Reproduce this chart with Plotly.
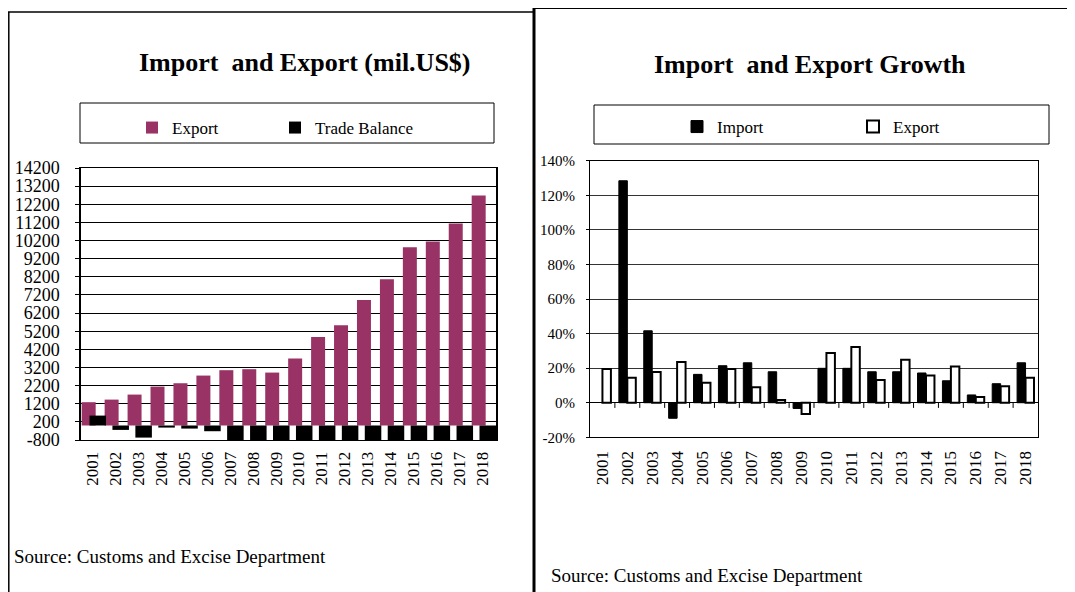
import plotly.graph_objects as go

# ---------------- data ----------------
years = [str(y) for y in range(2001, 2019)]
export_values = [1285, 1428, 1705, 2145, 2330, 2753, 3050, 3105, 2918, 3690,
                 4886, 5530, 6926, 8068, 9833, 10142, 11134, 12678]
trade_balance = [546, -243, -667, -115, -170, -316, -1450, -1820, -1160, -1210,
                 -1560, -2440, -2310, -2630, -2570, -2140, -3140, -4800]
import_growth = [None, 128.4, 41.6, -9.0, 16.4, 21.4, 23.1, 17.9, -3.3, 19.9,
                 19.9, 17.9, 17.9, 17.2, 12.7, 4.5, 11.0, 23.1]
export_growth = [19.5, 14.5, 17.8, 23.5, 11.6, 19.5, 8.9, 1.6, -6.5, 28.7,
                 32.2, 13.1, 24.9, 15.8, 21.0, 3.3, 9.5, 14.5]
left_yticks = list(range(-800, 14201, 1000))
left_yticktext = [str(v) for v in left_yticks]
right_yticks = list(range(-20, 141, 20))
right_yticktext = [f"{v}%" for v in right_yticks]

# ---------------- layout helpers ----------------
W, H = 1075, 592
OFF = 8  # page body margin: reference pixel -> figure pixel
FONT = "Liberation Serif"


def px(x):
    return (x - OFF) / W


def py(y):
    return 1 - (y - OFF) / H


fig = go.Figure()

# Left chart
fig.add_trace(go.Bar(x=years, y=export_values, name="Export",
                     marker=dict(color="#993366", line=dict(width=0)),
                     offset=-0.47, width=0.61, xaxis="x", yaxis="y",
                     legend="legend"))
fig.add_trace(go.Bar(x=years, y=trade_balance, name="Trade Balance",
                     marker=dict(color="#000000", line=dict(width=0)),
                     offset=-0.13, width=0.72, xaxis="x", yaxis="y",
                     legend="legend"))

# Right chart
fig.add_trace(go.Bar(x=years, y=import_growth, name="Import",
                     marker=dict(color="#000000", line=dict(color="#000000", width=1)),
                     offset=-0.34, width=0.34, xaxis="x2", yaxis="y2",
                     legend="legend2"))
fig.add_trace(go.Bar(x=years, y=export_growth, name="Export",
                     marker=dict(color="#ffffff", line=dict(color="#000000", width=2)),
                     offset=0.0, width=0.34, xaxis="x2", yaxis="y2",
                     legend="legend2"))

shapes = []
# panel borders
shapes.append(dict(type="line", xref="paper", yref="paper", x0=px(8.8), x1=px(8.8),
                   y0=py(12), y1=py(620), line=dict(color="#000", width=1.5)))
shapes.append(dict(type="line", xref="paper", yref="paper", x0=px(8), x1=px(534),
                   y0=py(12), y1=py(12), line=dict(color="#000", width=1.5)))
shapes.append(dict(type="line", xref="paper", yref="paper", x0=px(534), x1=px(534),
                   y0=py(7), y1=py(620), line=dict(color="#000", width=3)))
shapes.append(dict(type="line", xref="paper", yref="paper", x0=px(533), x1=px(1100),
                   y0=py(8), y1=py(8), line=dict(color="#000", width=2)))
# legend boxes
shapes.append(dict(type="rect", xref="paper", yref="paper", x0=px(80), x1=px(494),
                   y0=py(143), y1=py(103), line=dict(color="#000", width=1)))
shapes.append(dict(type="rect", xref="paper", yref="paper", x0=px(594), x1=px(1049),
                   y0=py(144), y1=py(105), line=dict(color="#000", width=1)))
# category boundary tick marks on the zero line of the growth chart
for i in range(1, len(years)):
    shapes.append(dict(type="line", xref="x2", yref="y2", x0=i - 0.5, x1=i - 0.5,
                       y0=0, y1=-3, line=dict(color="#000", width=1)))

annotations = [
    dict(text="<b>Import  and Export (mil.US$)</b>", xref="paper", yref="paper",
         x=px(305), y=py(62), showarrow=False, xanchor="center", yanchor="middle",
         font=dict(family=FONT, size=26, color="#000")),
    dict(text="<b>Import  and Export Growth</b>", xref="paper", yref="paper",
         x=px(810), y=py(64), showarrow=False, xanchor="center", yanchor="middle",
         font=dict(family=FONT, size=26, color="#000")),
    dict(text="Source: Customs and Excise Department", xref="paper", yref="paper",
         x=px(12), y=py(556), showarrow=False, xanchor="left", yanchor="middle",
         font=dict(family=FONT, size=19, color="#000")),
    dict(text="Source: Customs and Excise Department", xref="paper", yref="paper",
         x=px(549), y=py(575), showarrow=False, xanchor="left", yanchor="middle",
         font=dict(family=FONT, size=19, color="#000")),
]

fig.update_layout(
    width=W, height=H,
    margin=dict(l=0, r=0, t=0, b=0, autoexpand=False),
    paper_bgcolor="#ffffff", plot_bgcolor="#ffffff",
    barmode="overlay",
    font=dict(family=FONT, color="#000"),
    shapes=shapes,
    annotations=annotations,
    legend=dict(orientation="h", x=px(132), y=py(128), xanchor="left", yanchor="middle",
                entrywidth=98, entrywidthmode="pixels", itemwidth=30,
                font=dict(family=FONT, size=17, color="#000"),
                bgcolor="rgba(0,0,0,0)", borderwidth=0, itemclick=False),
    legend2=dict(orientation="h", x=px(677), y=py(127), xanchor="left", yanchor="middle",
                 entrywidth=131, entrywidthmode="pixels", itemwidth=30,
                 font=dict(family=FONT, size=17, color="#000"),
                 bgcolor="rgba(0,0,0,0)", borderwidth=0, itemclick=False),
    xaxis=dict(domain=[px(81), px(496)], anchor="y", type="category",
               showline=True, linecolor="#000", linewidth=1, mirror=True,
               showgrid=False, ticks="", tickangle=-90, automargin=False,
               ticklabelstandoff=4,
               tickfont=dict(family=FONT, size=17, color="#000")),
    yaxis=dict(domain=[py(440), py(168)], anchor="x", range=[-800, 14200],
               tickmode="array", tickvals=left_yticks, ticktext=left_yticktext,
               showline=True, linecolor="#000", linewidth=1.5, mirror=True,
               showgrid=True, gridcolor="#000", gridwidth=1, zeroline=False,
               ticks="outside", ticklen=4, tickcolor="#000", automargin=False,
               ticklabelstandoff=12,
               tickfont=dict(family=FONT, size=18, color="#000")),
    xaxis2=dict(domain=[px(590), px(1038)], anchor="y2", type="category",
                showline=True, linecolor="#000", linewidth=1, mirror=True,
                showgrid=False, ticks="", tickangle=-90, automargin=False,
                ticklabelstandoff=6,
                tickfont=dict(family=FONT, size=17, color="#000")),
    yaxis2=dict(domain=[py(437.3), py(160.7)], anchor="x2", range=[-20, 140],
                tickmode="array", tickvals=right_yticks, ticktext=right_yticktext,
                showline=True, linecolor="#000", linewidth=1, mirror=True,
                showgrid=True, gridcolor="#333", gridwidth=1,
                zeroline=True, zerolinecolor="#000", zerolinewidth=1,
                ticks="outside", ticklen=3, tickcolor="#000", automargin=False,
                ticklabelstandoff=8,
                tickfont=dict(family=FONT, size=15, color="#000")),
)

fig.write_html("out.html")
